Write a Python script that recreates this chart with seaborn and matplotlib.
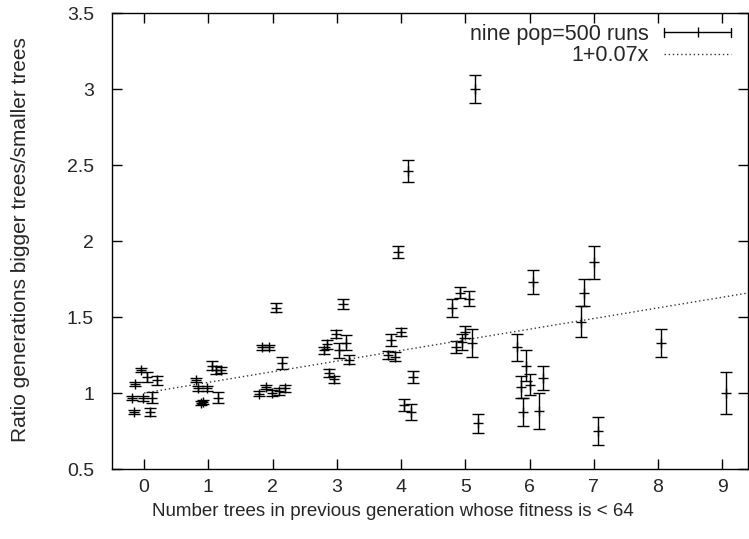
import numpy as np
import matplotlib
matplotlib.use("Agg")
import matplotlib.pyplot as plt
import matplotlib.ticker as mticker
from matplotlib.lines import Line2D
from matplotlib.legend_handler import HandlerBase
import seaborn as sns

# ── Dados ───────────────────────────────────────────────────────────────────
# posição x (com pequeno deslocamento por execução), razão e erro
x_pos = [-0.19, -0.16, -0.14, -0.05, -0.02, 0.05, 0.09, 0.13, 0.20,
         0.81, 0.84, 0.89, 0.92, 0.98, 1.06, 1.12, 1.15, 1.20,
         1.79, 1.84, 1.90, 1.95, 1.99, 2.05, 2.10, 2.15, 2.20,
         2.80, 2.85, 2.88, 2.95, 2.99, 3.04, 3.10, 3.15, 3.19,
         3.80, 3.85, 3.90, 3.95, 4.00, 4.05, 4.10, 4.16, 4.19,
         4.80, 4.86, 4.91, 4.95, 5.00, 5.06, 5.10, 5.15, 5.20,
         5.81, 5.86, 5.90, 5.95, 6.00, 6.06, 6.15, 6.21,
         6.80, 6.85, 7.00, 7.06,
         8.05,
         9.05]
ratio = [0.967, 0.875, 1.06, 1.15, 0.965, 1.105, 0.875, 0.97, 1.085,
         1.085, 1.03, 0.934, 0.94, 1.03, 1.18, 1.15, 0.97, 1.15,
         0.995, 1.30, 1.04, 1.30, 1.00, 1.56, 1.01, 1.20, 1.03,
         1.28, 1.32, 1.13, 1.09, 1.39, 1.28, 1.585, 1.33, 1.22,
         1.25, 1.35, 1.24, 1.93, 1.40, 0.92, 2.46, 0.875, 1.105,
         1.56, 1.30, 1.66, 1.335, 1.40, 1.62, 1.33, 3.00, 0.80,
         1.30, 1.04, 0.875, 1.18, 1.055, 1.73, 0.88, 1.10,
         1.47, 1.66, 1.86, 0.75,
         1.33,
         1.00]
ratio_err = [0.015, 0.015, 0.015, 0.015, 0.015, 0.03, 0.025, 0.035, 0.03,
             0.015, 0.015, 0.015, 0.015, 0.015, 0.03, 0.025, 0.035, 0.02,
             0.015, 0.015, 0.015, 0.015, 0.02, 0.03, 0.025, 0.04, 0.025,
             0.025, 0.03, 0.025, 0.025, 0.025, 0.05, 0.035, 0.05, 0.03,
             0.025, 0.04, 0.03, 0.04, 0.025, 0.04, 0.07, 0.05, 0.04,
             0.06, 0.04, 0.035, 0.05, 0.04, 0.05, 0.09, 0.09, 0.065,
             0.09, 0.075, 0.09, 0.1, 0.07, 0.08, 0.12, 0.08,
             0.1, 0.09, 0.11, 0.09,
             0.09,
             0.14]

# ajuste linear 1 + 0.07x
fit_a, fit_b = 1.0, 0.07
fit_x = np.array([0.0, 9.4])

x_ticks = list(range(10))
y_ticks = [0.5, 1, 1.5, 2, 2.5, 3, 3.5]

# ── Estilo ──────────────────────────────────────────────────────────────────
sns.set_style("ticks")
plt.rcParams["font.family"] = ["Liberation Sans", "DejaVu Sans"]
plt.rcParams["font.size"] = 14


class HandlerErrSample(HandlerBase):
    # amostra horizontal estilo gnuplot: |---+---|
    def create_artists(self, legend, orig_handle, xdescent, ydescent,
                       width, height, fontsize, trans):
        y0 = height / 2 - ydescent
        h = 3.5
        arts = [Line2D([-xdescent, width - xdescent], [y0, y0], color="black", lw=1),
                Line2D([-xdescent, -xdescent], [y0 - h, y0 + h], color="black", lw=1),
                Line2D([width - xdescent, width - xdescent], [y0 - h, y0 + h], color="black", lw=1),
                Line2D([width / 2 - xdescent], [y0], marker="|", ms=7, mew=1, color="black")]
        for a in arts:
            a.set_transform(trans)
        return arts


fig = plt.figure(figsize=(7.49, 5.39), dpi=100)
ax = fig.add_axes([112 / 749, 1 - 469 / 539, 636 / 749, 456 / 539])

ax.errorbar(x_pos, ratio, yerr=ratio_err, fmt="none", ecolor="black",
            elinewidth=1, capsize=4, capthick=1)
sns.scatterplot(x=x_pos, y=ratio, marker="+", s=60, color="black",
                linewidth=1, ax=ax, legend=False)
sns.lineplot(x=fit_x, y=fit_a + fit_b * fit_x, color="#333333", lw=1,
             linestyle=(0, (1, 2)), ax=ax)

ax.set_xlim(-0.5, 9.4)
ax.set_ylim(0.5, 3.5)
ax.set_xticks(x_ticks)
ax.set_yticks(y_ticks)
ax.yaxis.set_major_formatter(mticker.FormatStrFormatter("%g"))
ax.tick_params(direction="in", length=7, width=1, top=True, right=True,
               labelsize=14, color="black")
ax.tick_params(axis="y", pad=13)
ax.tick_params(axis="x", pad=7)
for sp in ax.spines.values():
    sp.set_visible(True)
    sp.set_linewidth(1)
    sp.set_color("black")

ax.set_xlabel("Number trees in previous generation whose fitness is < 64", fontsize=13.5)
ax.set_ylabel("Ratio generations bigger trees/smaller trees", fontsize=15)
ax.xaxis.set_label_coords(393 / 749, 1 - 503 / 539, transform=fig.transFigure)
ax.yaxis.set_label_coords(11 / 749, 1 - 240 / 539, transform=fig.transFigure)
ax.yaxis.label.set_va("top")

err_proxy = Line2D([], [], color="black")
fit_proxy = Line2D([], [], color="#333333", lw=1, linestyle=(0, (1, 2)))
ax.legend([err_proxy, fit_proxy], ["nine pop=500 runs", "1+0.07x"],
          handler_map={err_proxy: HandlerErrSample()},
          loc="upper right", bbox_to_anchor=(731 / 749, 1 - 24 / 539),
          bbox_transform=fig.transFigure, frameon=False, markerfirst=False,
          handlelength=3.1, handletextpad=0.7, labelspacing=0.02,
          borderpad=0, borderaxespad=0, fontsize=15.5)

plt.savefig("out.png", dpi=100)
plt.close()
